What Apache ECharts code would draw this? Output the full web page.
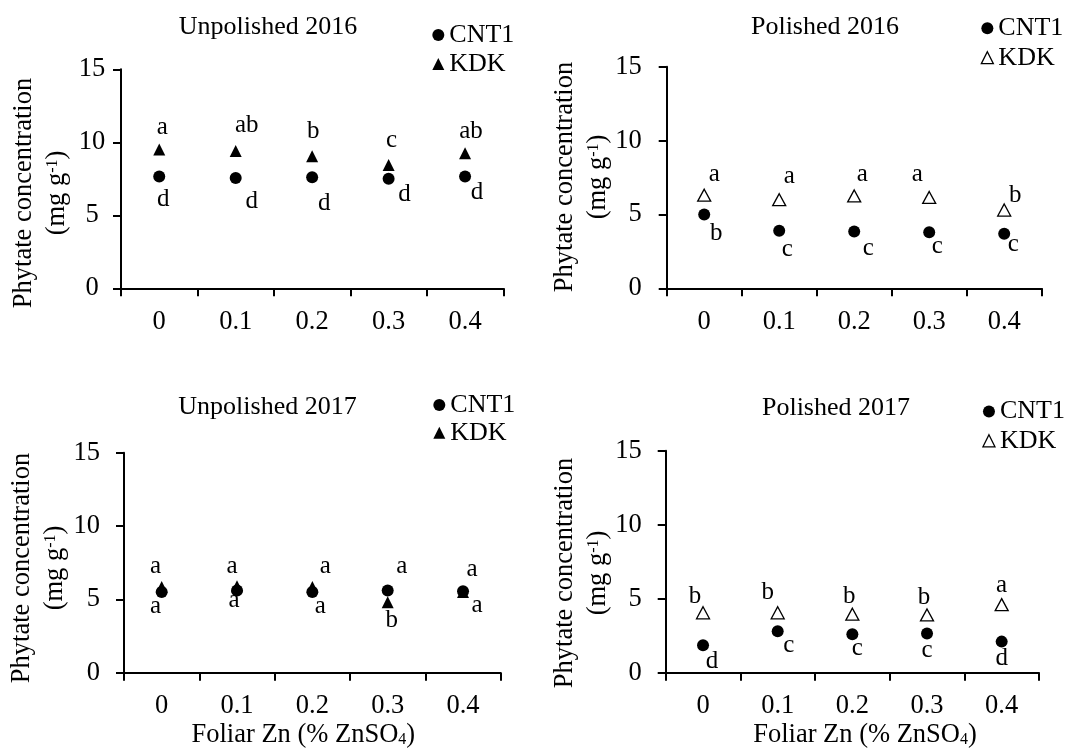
<!DOCTYPE html>
<html>
<head>
<meta charset="utf-8">
<script src="https://cdn.jsdelivr.net/npm/echarts@6/dist/echarts.min.js"></script>
<style>
html,body{margin:0;padding:0;background:#fff;}
#c{width:1067px;height:748px;}
</style>
</head>
<body>
<div id="c"></div>
<script>
// ---------- DATA ----------
const categories = ['0', '0.1', '0.2', '0.3', '0.4'];
const panelTitles = ['Unpolished 2016', 'Polished 2016', 'Unpolished 2017', 'Polished 2017'];
const seriesNames = ['CNT1', 'KDK'];
const yMin = 0, yMax = 15, yStep = 5;

// Panel 1: Unpolished 2016
const p1CNT1 = [7.65, 7.55, 7.6, 7.5, 7.65];
const p1KDK  = [9.5, 9.4, 9.05, 8.45, 9.25];
const p1CNT1Letters = ['d', 'd', 'd', 'd', 'd'];
const p1KDKLetters  = ['a', 'ab', 'b', 'c', 'ab'];
// Panel 2: Polished 2016
const p2CNT1 = [5.0, 3.9, 3.85, 3.8, 3.7];
const p2KDK  = [6.3, 6.0, 6.25, 6.15, 5.3];
const p2CNT1Letters = ['b', 'c', 'c', 'c', 'c'];
const p2KDKLetters  = ['a', 'a', 'a', 'a', 'b'];
// Panel 3: Unpolished 2017
const p3CNT1 = [5.5, 5.6, 5.5, 5.6, 5.55];
const p3KDK  = [5.85, 5.9, 5.85, 4.8, 5.5];
const p3CNT1Letters = ['a', 'a', 'a', 'a', 'a'];
const p3KDKLetters  = ['a', 'a', 'a', 'b', 'a'];
// Panel 4: Polished 2017
const p4CNT1 = [1.85, 2.8, 2.6, 2.65, 2.1];
const p4KDK  = [4.05, 4.05, 3.95, 3.9, 4.6];
const p4CNT1Letters = ['d', 'c', 'c', 'c', 'd'];
const p4KDKLetters  = ['b', 'b', 'b', 'b', 'a'];

// ---------- LAYOUT / STYLE ----------
const FONT = 'Liberation Serif, Times New Roman, serif';
const FS_AX = 26.5;   // tick labels and axis names
const FS_T = 26;      // titles and legends
const FS_L = 25;      // significance letters
const grids = [
  {left: 121, top: 69.3, width: 382.3, height: 219},
  {left: 666.7, top: 66.7, width: 375, height: 221.6},
  {left: 124, top: 452.7, width: 376.7, height: 220},
  {left: 665.7, top: 450.7, width: 373.3, height: 222}
];
const yLabelAlign = ['center', 'right', 'right', 'right'];
const yLabelMargin = [29, 25, 24, 24];
const titlePos = [[268, 14], [825, 14], [267.5, 394], [836, 395]];
const legendPos = [[432.3, 22, 3], [980.7, 15.3, 3.4], [433.3, 392, 1.7], [982.3, 398.5, 3.3]];
const yNamePos = [[41, 193], [581.7, 177], [39, 568], [581.7, 573]];
const xNamePos = [[303.3, 735], [865, 735]];
const openKDK = [false, true, false, true];

const cntOff = [
  [[4,23],[16,23],[12,26],[16,16],[12,16]],
  [[12,19],[8,19],[14,17],[8,14],[9,11]],
  [[-6,14],[-3,10],[8,14],[14,-24],[14,14]],
  [[9,16],[11,14],[5,14],[0,17],[0,17]]
];
const kdkOff = [
  [[3,-22],[11,-26],[1,-25],[3,-24],[6,-22]],
  [[10,-21],[10,-23],[8,-22],[-12,-23],[11,-15]],
  [[-6,-20],[-5,-20],[13,-20],[4,18],[9,-23]],
  [[-8,-16],[-10,-20],[-3,-18],[-3,-18],[0,-19]]
];

const cntVals = [p1CNT1, p2CNT1, p3CNT1, p4CNT1];
const kdkVals = [p1KDK, p2KDK, p3KDK, p4KDK];
const cntLet = [p1CNT1Letters, p2CNT1Letters, p3CNT1Letters, p4CNT1Letters];
const kdkLet = [p1KDKLetters, p2KDKLetters, p3KDKLetters, p4KDKLetters];

const grid = [], xAxis = [], yAxis = [], series = [], title = [], legend = [], graphic = [];

for (let i = 0; i < 4; i++) {
  grid.push(Object.assign({containLabel: false}, grids[i]));
  xAxis.push({
    type: 'category', gridIndex: i, data: categories, boundaryGap: true,
    axisLine: {show: true, lineStyle: {color: '#000', width: 2}},
    axisTick: {show: true, length: 8, lineStyle: {color: '#000', width: 2}},
    axisLabel: {color: '#000', fontFamily: FONT, fontSize: FS_AX, margin: 20},
    splitLine: {show: false}
  });
  yAxis.push({
    type: 'value', gridIndex: i, min: yMin, max: yMax, interval: yStep,
    axisLine: {show: true, lineStyle: {color: '#000', width: 2}},
    axisTick: {show: true, length: 8, lineStyle: {color: '#000', width: 2}},
    axisLabel: {color: '#000', fontFamily: FONT, fontSize: FS_AX, margin: yLabelMargin[i], align: yLabelAlign[i]},
    splitLine: {show: false}
  });
  const mkLabel = (letters) => ({
    show: true, position: 'inside', color: '#000', fontFamily: FONT, fontSize: FS_L,
    formatter: (p) => letters[p.dataIndex]
  });
  series.push({
    name: seriesNames[0], type: 'scatter', xAxisIndex: i, yAxisIndex: i,
    symbol: 'circle', symbolSize: 12,
    itemStyle: {color: '#000', opacity: 1},
    label: mkLabel(cntLet[i]),
    data: cntVals[i].map((v, j) => ({value: v, label: {offset: cntOff[i][j]}})),
    z: 3
  });
  series.push({
    name: seriesNames[1], type: 'scatter', xAxisIndex: i, yAxisIndex: i,
    symbol: 'triangle', symbolSize: openKDK[i] ? [13, 12] : 12,
    itemStyle: openKDK[i] ? {color: '#fff', borderColor: '#000', borderWidth: 1.3, opacity: 1} : {color: '#000', opacity: 1},
    label: mkLabel(kdkLet[i]),
    data: kdkVals[i].map((v, j) => ({value: v, label: {offset: kdkOff[i][j]}})),
    z: 4
  });
  title.push({
    text: panelTitles[i], left: titlePos[i][0], top: titlePos[i][1], textAlign: 'center', padding: 0,
    textStyle: {color: '#000', fontFamily: FONT, fontSize: FS_T, fontWeight: 'normal', lineHeight: 26}
  });
  legend.push({
    orient: 'vertical', left: legendPos[i][0], top: legendPos[i][1], itemGap: legendPos[i][2],
    itemWidth: 12, itemHeight: 12, padding: 0, selectedMode: false,
    textStyle: {color: '#000', fontFamily: FONT, fontSize: FS_T, lineHeight: 25},
    data: [
      {name: seriesNames[0], icon: 'circle', itemStyle: {color: '#000', borderWidth: 0}},
      openKDK[i]
        ? {name: seriesNames[1], icon: 'triangle', itemStyle: {color: '#fff', borderColor: '#000', borderWidth: 1.3}}
        : {name: seriesNames[1], icon: 'triangle', itemStyle: {color: '#000', borderWidth: 0}}
    ]
  });
  graphic.push({
    type: 'text', x: yNamePos[i][0], y: yNamePos[i][1], rotation: Math.PI / 2,
    style: {
      text: 'Phytate concentration\n(mg g{sup|-1})',
      fill: '#000', fontFamily: FONT, fontSize: FS_AX, lineHeight: 33,
      align: 'center', verticalAlign: 'middle',
      rich: {sup: {fontFamily: FONT, fontSize: 16, lineHeight: 33, verticalAlign: 'top', padding: [4, 0, 0, 0], fill: '#000'}}
    }
  });
}
for (let k = 0; k < 2; k++) {
  graphic.push({
    type: 'text', x: xNamePos[k][0], y: xNamePos[k][1],
    style: {
      text: 'Foliar Zn (% ZnSO{sub|4})',
      fill: '#000', fontFamily: FONT, fontSize: FS_AX, lineHeight: 26,
      align: 'center', verticalAlign: 'middle',
      rich: {sub: {fontFamily: FONT, fontSize: 16, lineHeight: 8, verticalAlign: 'bottom', fill: '#000'}}
    }
  });
}

const chart = echarts.init(document.getElementById('c'), null, {renderer: 'canvas'});
chart.setOption({
  animation: false,
  backgroundColor: '#fff',
  grid, xAxis, yAxis, series, title, legend, graphic
});
</script>
</body>
</html>
